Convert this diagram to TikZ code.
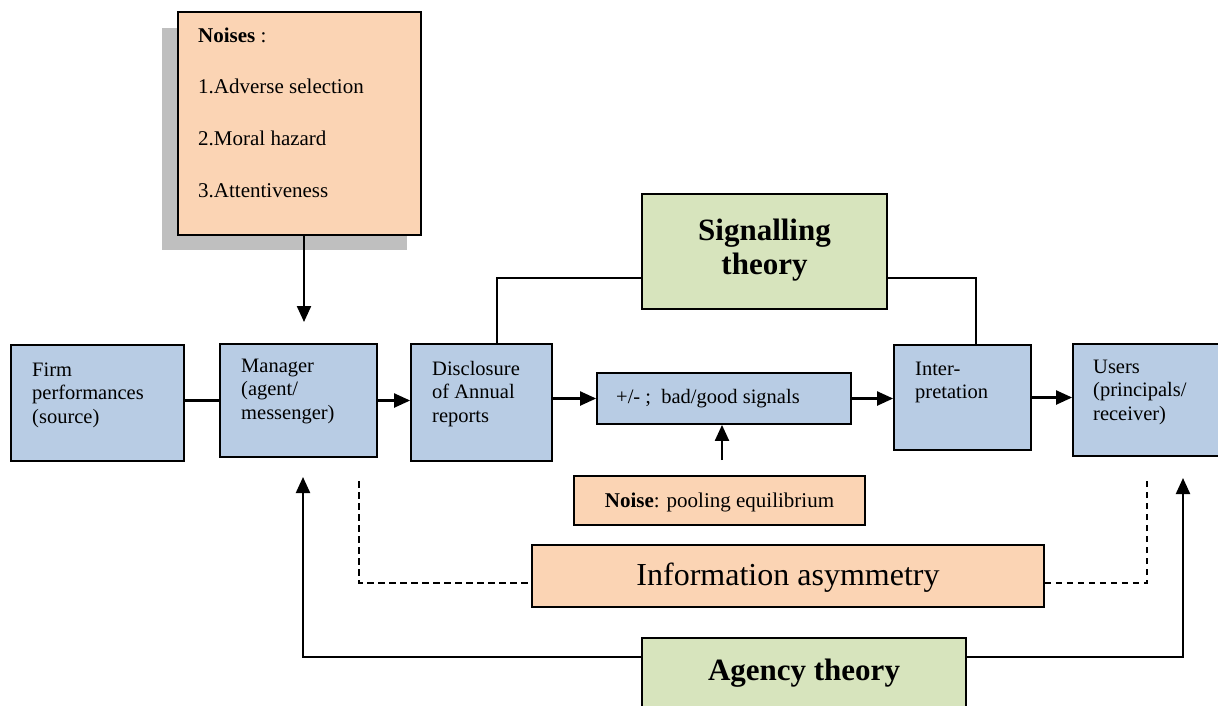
\documentclass[tikz,border=0pt]{standalone}
\usepackage{fontspec}
\setmainfont{Liberation Serif}
\usetikzlibrary{arrows.meta,calc}
\definecolor{boxblue}{HTML}{B8CCE4}
\definecolor{boxpeach}{HTML}{FBD4B4}
\definecolor{boxgreen}{HTML}{D7E4BD}
\definecolor{shadowgray}{HTML}{BFBFBF}
\newcommand\fstrut[1]{\rule{0pt}{#1}}
\tikzset{
  basebox/.style={draw=black, line width=1.8pt, inner sep=0pt, rectangle},
  bluebox/.style={basebox, fill=boxblue},
  peachbox/.style={basebox, fill=boxpeach},
  greenbox/.style={basebox, fill=boxgreen},
  boxtext/.style={anchor=north west, inner sep=0pt, align=left, font=\fontsize{20.5}{23.5}\selectfont},
  conn/.style={line width=2.2pt},
  arr/.style={line width=2.2pt, -{Triangle[length=16pt,width=14pt]}},
  thinconn/.style={line width=1.6pt},
  dashconn/.style={line width=1.8pt, dash pattern=on 6.5pt off 4.5pt},
}
\begin{document}
\begin{tikzpicture}[x=1pt,y=-1pt]
\clip (0,0) rectangle (1218,705);
\fill[white] (0,0) rectangle (1218,705);

% Noises box with shadow
\fill[shadowgray] (162,28) rectangle (407,250);
\node[peachbox, minimum width=243pt, minimum height=223pt] (noises) at (299.5,123.5) {};
\node[anchor=north west, inner sep=0pt, align=left, font=\fontsize{21}{51.7}\selectfont] (noisestxt) at (198,26)
  {\fstrut{16pt}\textbf{Noises} :\\1.Adverse selection\\2.Moral hazard\\3.Attentiveness};

% Signalling theory
\node[greenbox, minimum width=245pt, minimum height=115pt] (signal) at (764.5,251.5) {};
\node[anchor=north, inner sep=0pt, align=center, font=\fontsize{31}{34}\selectfont\bfseries] (signaltxt) at (764.5,215)
  {\fstrut{25pt}Signalling\\theory};

% Main row
\node[bluebox, minimum width=173pt, minimum height=116pt] (firm) at (97.5,403) {};
\node[boxtext] (firmtxt) at (32,361) {\fstrut{15pt}Firm\\performances\\(source)};

\node[bluebox, minimum width=157pt, minimum height=113pt] (mgr) at (298.5,400.5) {};
\node[boxtext] (mgrtxt) at (241,357) {\fstrut{15pt}Manager\\(agent/\\messenger)};

\node[bluebox, minimum width=141pt, minimum height=117pt] (disc) at (481.5,402.5) {};
\node[boxtext] (disctxt) at (432,360) {\fstrut{15pt}Disclosure\\of Annual\\reports};

\node[bluebox, minimum width=254pt, minimum height=51pt] (sig) at (724,398.5) {};
\node[anchor=base west, inner sep=0pt, font=\fontsize{20.5}{23.5}\selectfont] (sigtxt) at (616,403) {+/- ;\ \ bad/good signals};

\node[bluebox, minimum width=137pt, minimum height=105pt] (interp) at (962.5,397.5) {};
\node[boxtext] (interptxt) at (915,360) {\fstrut{15pt}Inter-\\pretation};

\node[bluebox, minimum width=157pt, minimum height=112pt] (users) at (1151.5,400) {};
\node[boxtext] (userstxt) at (1093,358) {\fstrut{15pt}Users\\(principals/\\receiver)};

% Noise pooling equilibrium
\node[peachbox, minimum width=291pt, minimum height=49pt] (pool) at (719.5,500.5) {};
\node[anchor=base, inner sep=0pt, font=\fontsize{21}{24}\selectfont] (pooltxt) at (719.5,507) {\textbf{Noise}: pooling equilibrium};

% Information asymmetry
\node[peachbox, minimum width=512pt, minimum height=62pt] (info) at (788,576) {};
\node[anchor=base, inner sep=0pt, font=\fontsize{32}{36}\selectfont] (infotxt) at (788,585) {Information asymmetry};

% Agency theory
\node[greenbox, minimum width=324pt, minimum height=102pt] (agency) at (804,689) {};
\node[anchor=base, inner sep=0pt, font=\fontsize{31}{34}\selectfont\bfseries] (agencytxt) at (804,680) {Agency theory};

% Coordinates for free ends and bends
\coordinate (nzt) at (304,322);
\coordinate (pb) at (722,460);
\coordinate (sl) at (497,278);
\coordinate (sr) at (976,278);
\coordinate (dl) at (359,481);
\coordinate (dlc) at (359,583);
\coordinate (drc) at (1147,583);
\coordinate (dr) at (1147,478);
\coordinate (al) at (303,657);
\coordinate (alt) at (303,477);
\coordinate (ar) at (1183,657);
\coordinate (art) at (1183,478);

% Connectors
\draw[arr] (noises.south -| nzt) -- (nzt);
\draw[conn] (firm.east |- mgr.west) -- (mgr.west);
\draw[arr] (mgr.east) -- (mgr.east -| disc.west);
\draw[arr] (disc.east |- sig.west) -- (sig.west);
\draw[arr] (sig.east) -- (sig.east -| interp.west);
\draw[arr] (interp.east) -- (interp.east -| users.west);
\draw[arr] (pb) -- (pb |- sig.south);

\draw[thinconn] (sl -| signal.west) -- (sl) -- (sl |- disc.north);
\draw[thinconn] (sr -| signal.east) -- (sr) -- (sr |- interp.north);

\draw[dashconn] (dl) -- (dlc) -- (dlc -| info.west);
\draw[dashconn] (drc -| info.east) -- (drc) -- (dr);

\draw[arr] (al -| agency.west) -- (al) -- (alt);
\draw[arr] (ar -| agency.east) -- (ar) -- (art);
\end{tikzpicture}
\end{document}
